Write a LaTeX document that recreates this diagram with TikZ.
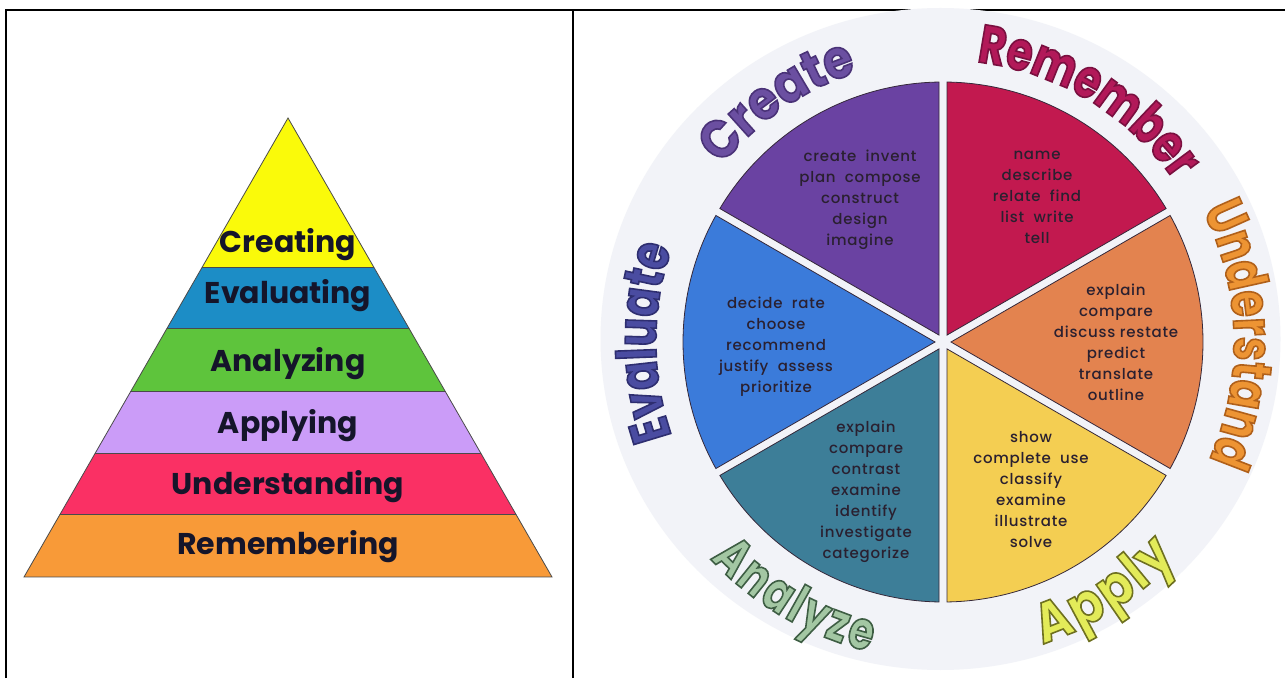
\documentclass[tikz,border=0pt]{standalone}
\usepackage{fontspec}
\setmainfont{Poppins}
\newfontfamily\pyrfont{Poppins Bold}
\newfontfamily\ringfont{Poppins Bold}[FakeStretch=0.77]
\newfontfamily\ringwidefont{Poppins Bold}[FakeStretch=0.88]
\newfontfamily\wordfont{Poppins Medium}[LetterSpace=5]
\usetikzlibrary{decorations.text}

% pyramid colours
\definecolor{pyrYellow}{HTML}{FAFA0A}
\definecolor{pyrBlue}{HTML}{1C8DC6}
\definecolor{pyrGreen}{HTML}{5EC43C}
\definecolor{pyrLilac}{HTML}{CB9CF8}
\definecolor{pyrRed}{HTML}{FA3064}
\definecolor{pyrOrange}{HTML}{F89A38}
\definecolor{pyrInk}{HTML}{15152A}
\definecolor{pyrEdge}{HTML}{4A4A4A}
% wheel colours
\definecolor{ringBg}{HTML}{F2F3F8}
\definecolor{secCreate}{HTML}{6A42A2}
\definecolor{secRemember}{HTML}{C2194F}
\definecolor{secUnderstand}{HTML}{E3834F}
\definecolor{secApply}{HTML}{F4CE52}
\definecolor{secAnalyze}{HTML}{3D7E98}
\definecolor{secEvaluate}{HTML}{3B7BDA}
\definecolor{secEdge}{HTML}{35283A}
\definecolor{wordInk}{HTML}{2A2030}
% outline colours of the ring words
\definecolor{reCreate}{HTML}{4A3278}
\definecolor{reRemember}{HTML}{7A1040}
\definecolor{reUnder}{HTML}{B0601A}
\definecolor{reEval}{HTML}{2E2E70}
\definecolor{reAnal}{HTML}{3E5E44}
\definecolor{reApply}{HTML}{6E7020}

\tikzset{
  frame/.style={line width=1.8pt, black},
  band/.style={draw=pyrEdge, line width=0.8pt},
  pyrlabel/.style={font=\pyrfont\fontsize{30}{30}\selectfont, text=pyrInk, inner sep=0pt},
  sectorline/.style={draw=secEdge, line width=0.8pt},
  words/.style={align=center, font=\wordfont\fontsize{15}{21}\selectfont, text=wordInk, inner sep=0pt},
}

% one slice of the wheel, separated from its neighbours by a white gap
\newcommand\wheelslice[3]{%
  \path[sectorline, fill=#3] ({(#1+#2)/2}:8) -- ({#1+0.88}:260)
    arc[start angle=#1+0.88, end angle=#2-0.88, radius=260] -- cycle;}

% outlined word along an arc (glyphs filled and stroked):
% radius, from, to, outline colour, fill rgb, size, font and spacing, text
\newcommand\ringword[8]{%
  \path[decorate, decoration={text along path, text align=center,
      text={|\color{#4}#7\fontsize{#6}{#6}\selectfont\special{pdf:literal direct #5 rg 2 Tr 1.6 w}|#8}}]
      (#2:#1) arc[start angle=#2, end angle=#3, radius=#1];
}

\begin{document}
\begin{tikzpicture}[x=1pt, y=1pt]
\useasboundingbox (0,0) rectangle (1285,678);
\fill[white] (0,0) rectangle (1285,678);

% ---------- pyramid ----------
\begin{scope}
  \clip (24,101) -- (288,560) -- (552,101) -- cycle;
  \fill[pyrYellow] (0,411) rectangle (600,570);
  \fill[pyrBlue]   (0,349.5) rectangle (600,411);
  \fill[pyrGreen]  (0,287) rectangle (600,349.5);
  \fill[pyrLilac]  (0,225) rectangle (600,287);
  \fill[pyrRed]    (0,163.5) rectangle (600,225);
  \fill[pyrOrange] (0,101) rectangle (600,163.5);
  \foreach \yy in {411,349.5,287,225,163.5}
    \draw[band] (0,\yy) -- (600,\yy);
\end{scope}
\draw[band] (24,101) -- (288,560) -- (552,101) -- cycle;

\node[pyrlabel] (pCreate) at (288,433) {Creating};
\node[pyrlabel] (pEval)   at (288,382) {Evaluating};
\node[pyrlabel] (pAnal)   at (288,314) {Analyzing};
\node[pyrlabel] (pApply)  at (288,252) {Applying};
\node[pyrlabel] (pUnder)  at (288,191) {Understanding};
\node[pyrlabel] (pRemem)  at (288,131) {Remembering};

% ---------- frame ----------
\draw[frame] (6,0) -- (6,668) -- (1285,668);
\draw[frame] (573,0) -- (573,668);

% ---------- wheel ----------
\fill[ringBg] (940.5,339) ellipse[x radius=340, y radius=331];

\begin{scope}[shift={(943,336)}]
  \wheelslice{90}{150}{secCreate}
  \wheelslice{30}{90}{secRemember}
  \wheelslice{-30}{30}{secUnderstand}
  \wheelslice{-90}{-30}{secApply}
  \wheelslice{-150}{-90}{secAnalyze}
  \wheelslice{150}{210}{secEvaluate}
\end{scope}

\node[words] (wCreate) at (860,478) {create\ \ invent\\plan\ \ compose\\construct\\design\\imagine};
\node[words] (wRemem)  at (1037,481) {name\\describe\\relate\ \ find\\list\ \ write\\tell};
\node[words] (wUnder)  at (1116,335.5) {explain\\compare\\discuss restate\\predict\\translate\\outline};
\node[words] (wApply)  at (1031,188.5) {show\\complete\ \ use\\classify\\examine\\illustrate\\solve};
\node[words] (wAnal)   at (866,186.5) {explain\\compare\\contrast\\examine\\identify\\investigate\\categorize};
\node[words] (wEval)   at (776,331.5) {decide\ \ rate\\choose\\recommend\\justify\ \ assess\\prioritize};

% ring words last: their glyphs are filled and stroked
\begin{scope}[shift={(943,336)}]
  \ringword{283}{154}{95}{reCreate}{0.42 0.31 0.63}{54}{\ringwidefont}{Create}
  \ringword{282}{91}{27}{reRemember}{0.70 0.10 0.35}{54}{\ringfont}{Remember}
  \ringword{291}{34}{-31}{reUnder}{0.93 0.58 0.20}{55}{\ringfont}{Understand}
  \ringword{287}{210}{150}{reEval}{0.29 0.30 0.63}{55}{\ringfont}{Evaluate}
  \ringword{318}{-152}{-89}{reAnal}{0.64 0.78 0.64}{53}{\ringfont\kern3pt}{Analyze}
  \ringword{318}{-90}{-25}{reApply}{0.89 0.92 0.35}{56}{\ringwidefont\kern3pt}{Apply}
\end{scope}
\end{tikzpicture}
\end{document}
